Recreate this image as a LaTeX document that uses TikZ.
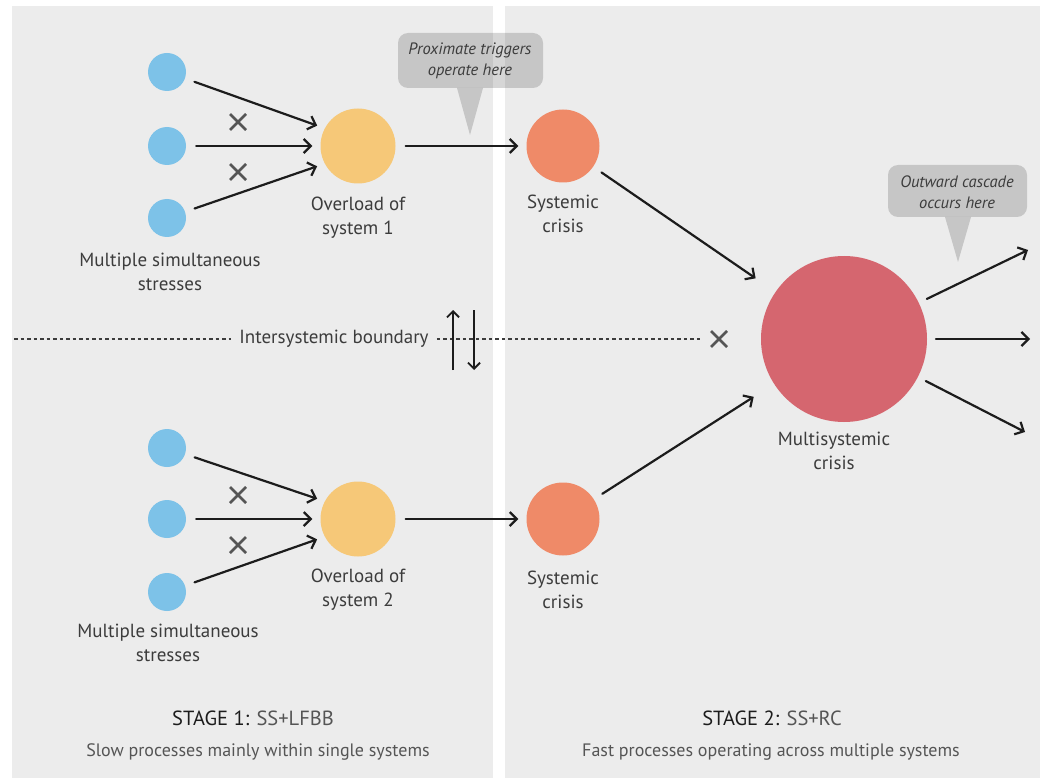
\documentclass[tikz,border=0pt]{standalone}
\usepackage{fontspec}
\setmainfont{PT Sans}
\usetikzlibrary{arrows.meta}
\definecolor{panelgray}{HTML}{ECECEC}
\definecolor{stressblue}{HTML}{7DC2E8}
\definecolor{overloadyellow}{HTML}{F6C878}
\definecolor{crisisorange}{HTML}{EF8A68}
\definecolor{multired}{HTML}{D5666F}
\definecolor{arrowblack}{HTML}{1C1C1C}
\definecolor{labelgray}{HTML}{3C3C3C}
\definecolor{crossgray}{HTML}{555555}
\definecolor{subgray}{HTML}{555555}
\tikzset{
  stress/.style={circle, fill=stressblue, minimum size=38pt, inner sep=0pt},
  overload/.style={circle, fill=overloadyellow, minimum size=75pt, inner sep=0pt},
  crisis/.style={circle, fill=crisisorange, minimum size=73pt, inner sep=0pt},
  multi/.style={circle, fill=multired, minimum size=166pt, inner sep=0pt},
  flow/.style={draw=arrowblack, line width=2.2pt, line cap=round,
    -{Straight Barb[length=7pt,width=14pt,line width=2.2pt]},
    shorten <=10pt, shorten >=8pt},
  lbl/.style={text=labelgray, font=\fontsize{19}{24}\selectfont, align=center, inner sep=0pt},
  note/.style={text=labelgray, font=\fontsize{16.5}{21}\selectfont\itshape, align=center, inner sep=0pt},
  callout/.style={fill=black, opacity=0.16},
  boundary/.style={draw=labelgray, line width=1.1pt, dash pattern=on 3.5pt off 3pt},
  xmark/.pic={\draw[crossgray, line width=2.6pt] (-8,-8) -- (8,8) (-8,8) -- (8,-8);}
}
\begin{document}
\begin{tikzpicture}[x=1pt, y=-1pt]
\useasboundingbox (0,0) rectangle (1047,778);
% stage panels
\fill[panelgray] (12,6) rectangle (493,778);
\fill[panelgray] (505,6) rectangle (1040,778);

% system 1
\node[stress] (s1a) at (167,72) {};
\node[stress] (s1b) at (167,146) {};
\node[stress] (s1c) at (167,218) {};
\node[overload] (o1) at (358,146) {};
\node[crisis] (c1) at (563,146) {};

% system 2
\node[stress] (s2a) at (167,448) {};
\node[stress] (s2b) at (167,519) {};
\node[stress] (s2c) at (167,592) {};
\node[overload] (o2) at (358,519) {};
\node[crisis] (c2) at (563,519) {};

% multisystemic crisis
\node[multi] (m) at (844,339) {};

% stress inputs
\draw[flow] (s1a) -- (o1.152);
\draw[flow] (s1b) -- (o1);
\draw[flow] (s1c) -- (o1.208);
\draw[flow] (s2a) -- (o2.152);
\draw[flow] (s2b) -- (o2);
\draw[flow] (s2c) -- (o2.208);
\pic at (238,122) {xmark};
\pic at (238,172) {xmark};
\pic at (238,495) {xmark};
\pic at (238,545) {xmark};

% overload to crisis
\draw[flow] (o1) -- (c1);
\draw[flow] (o2) -- (c2);

% crises merge
\draw[flow, shorten >=24pt] (c1) -- (m);
\draw[flow, shorten >=24pt] (c2) -- (m);

% outward cascade
\coordinate (e1) at (1028,250);
\coordinate (e2) at (1030,339);
\coordinate (e3) at (1025,432);
\draw[flow, shorten <=92pt, shorten >=0pt] (m.center) -- (e1);
\draw[flow, shorten <=92pt, shorten >=0pt] (m.center) -- (e2);
\draw[flow, shorten <=92pt, shorten >=0pt] (m.center) -- (e3);
\pic at (719,339) {xmark};

% labels
\node[lbl] (l1) at (170,272) {Multiple simultaneous\\stresses};
\node[lbl] (l2) at (358,218) {Overload of\\system 1};
\node[lbl] (l3) at (563,214) {Systemic\\crisis};
\node[lbl] (l4) at (168,643) {Multiple simultaneous\\stresses};
\node[lbl] (l5) at (358,590) {Overload of\\system 2};
\node[lbl] (l6) at (563,590) {Systemic\\crisis};
\node[lbl] (l7) at (834,451) {Multisystemic\\crisis};

% intersystemic boundary
\node[lbl, fill=panelgray, inner xsep=8pt] (bd) at (334,339) {Intersystemic boundary};
\coordinate (bl) at (14,339);
\coordinate (br) at (700,339);
\draw[boundary] (bl) -- (bd.west);
\draw[boundary] (bd.east) -- (br);
\coordinate (upb) at (453,370);
\coordinate (upt) at (453,310);
\coordinate (dnt) at (474,310);
\coordinate (dnb) at (474,370);
\draw[arrowblack, line width=1.9pt, -{Straight Barb[length=6pt,width=12pt,line width=1.9pt]}] (upb) -- (upt);
\draw[arrowblack, line width=1.9pt, -{Straight Barb[length=6pt,width=12pt,line width=1.9pt]}] (dnt) -- (dnb);

% callouts
\fill[callout, rounded corners=10pt] (398,33) rectangle (543,88);
\fill[callout] (457,88) -- (483,88) -- (470,135) -- cycle;
\node[note] (n1) at (470,61) {Proximate triggers\\operate here};
\fill[callout, rounded corners=10pt] (888,165) rectangle (1027,217);
\fill[callout] (945,217) -- (971,217) -- (958,262) -- cycle;
\node[note] (n2) at (957,192) {Outward cascade\\occurs here};

% stage captions
\node[text=arrowblack, font=\fontsize{20.5}{24}\selectfont, inner sep=0pt] (st1) at (253,718)
  {STAGE 1: \textcolor{subgray}{SS+LFBB}};
\node[text=subgray, font=\fontsize{18}{22}\selectfont, inner sep=0pt] (d1) at (258,752)
  {Slow processes mainly within single systems};
\node[text=arrowblack, font=\fontsize{20.5}{24}\selectfont, inner sep=0pt] (st2) at (772,718)
  {STAGE 2: \textcolor{subgray}{SS+RC}};
\node[text=subgray, font=\fontsize{18}{22}\selectfont, inner sep=0pt] (d2) at (771,752)
  {Fast processes operating across multiple systems};
\end{tikzpicture}
\end{document}
